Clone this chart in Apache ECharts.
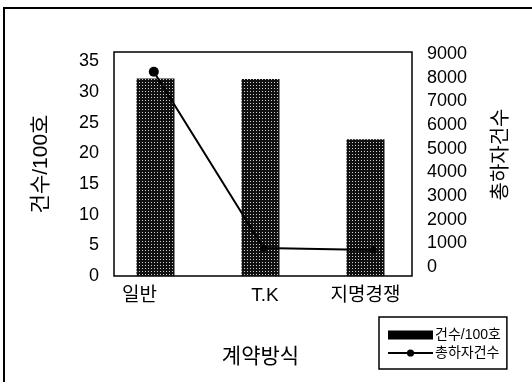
<!DOCTYPE html>
<html><head><meta charset="utf-8">
<script src="https://cdn.jsdelivr.net/npm/echarts@6/dist/echarts.min.js"></script>
<style>html,body{margin:0;padding:0;background:#fff}#c{width:532px;height:382px}</style>
</head><body><div id="c"></div>
<script>
const categories = ['일반', 'T.K', '지명경쟁'];
const barValues = [32.2, 32.1, 22.3];        // 건수/100호
const lineValues = [8250, 800, 720];         // 총하자건수
const leftTicks = { min: 0, max: 36.5, interval: 5 };
const rightTicks = { min: 0, max: 9000, interval: 1000 };
const barName = '건수/100호';
const lineName = '총하자건수';
const xName = '계약방식';

const FONT = '"Liberation Sans", "Noto Sans CJK KR", sans-serif';

// dotted dark fill pattern
const pc = document.createElement('canvas');
pc.width = 3; pc.height = 3;
const pctx = pc.getContext('2d');
pctx.fillStyle = '#101010'; pctx.fillRect(0, 0, 3, 3);
pctx.fillStyle = '#cfcfcf'; pctx.fillRect(1, 1, 1, 1);

const chart = echarts.init(document.getElementById('c'), null, { renderer: 'canvas' });
chart.setOption({
  animation: false,
  backgroundColor: '#fff',
  textStyle: { fontFamily: FONT, color: '#000' },
  graphic: [{
    type: 'rect', shape: { x: 4, y: 8, width: 600, height: 420 },
    style: { fill: 'none', stroke: '#000', lineWidth: 2 }, silent: true
  }],
  grid: [
    { left: 114, top: 52, width: 298, height: 224, show: true, borderColor: '#000', borderWidth: 1.5, backgroundColor: 'transparent' },
    { left: 103, top: 52, width: 315, height: 224 },
    { left: 99, top: 54, width: 329, height: 213 },
    { left: 114, top: 54, width: 298, height: 213 }
  ],
  xAxis: [
    { gridIndex: 0, type: 'category', data: categories, show: false },
    { gridIndex: 1, type: 'category', data: [
        { value: categories[0], textStyle: { padding: [0, 32, 0, 0] } },
        { value: categories[1], textStyle: { padding: [0, 0, 0, 9] } },
        { value: categories[2] }
      ],
      axisLine: { show: false }, axisTick: { show: false },
      axisLabel: { margin: 10, fontSize: 19, color: '#000', fontFamily: FONT },
      name: xName, nameLocation: 'middle', nameGap: 71,
      nameTextStyle: { fontSize: 21, color: '#000', fontFamily: FONT } },
    { gridIndex: 2, type: 'category', data: categories, show: false },
    { gridIndex: 3, type: 'category', data: categories, show: false }
  ],
  yAxis: [
    { gridIndex: 0, type: 'value', position: 'left', min: leftTicks.min, max: leftTicks.max, interval: leftTicks.interval,
      splitLine: { show: false }, axisLine: { show: false }, axisTick: { show: false },
      axisLabel: { margin: 15, fontSize: 18, color: '#000', fontFamily: FONT, showMaxLabel: false },
      name: barName, nameLocation: 'middle', nameRotate: 90, nameGap: 62,
      nameTextStyle: { fontSize: 21, color: '#000', fontFamily: FONT } },
    { gridIndex: 1, type: 'value', min: leftTicks.min, max: leftTicks.max, show: false, splitLine: { show: false } },
    { gridIndex: 2, type: 'value', min: rightTicks.min, max: rightTicks.max, show: false, splitLine: { show: false } },
    { gridIndex: 3, type: 'value', position: 'right', min: rightTicks.min, max: rightTicks.max, interval: rightTicks.interval,
      splitLine: { show: false }, axisLine: { show: false }, axisTick: { show: false },
      axisLabel: { margin: 15, fontSize: 18, color: '#000', fontFamily: FONT, formatter: v => String(v) },
      name: lineName, nameLocation: 'middle', nameRotate: 90, nameGap: 79,
      nameTextStyle: { fontSize: 20, color: '#000', fontFamily: FONT, padding: [0, 0, 0, 12] } }
  ],
  legend: {
    left: 379, top: 317, orient: 'vertical', itemGap: 4,
    borderColor: '#000', borderWidth: 1.5, padding: [11, 6, 9, 8],
    itemWidth: 45, itemHeight: 9,
    textStyle: { fontSize: 14, color: '#000', fontFamily: FONT, padding: [0, 0, 0, -3] },
    data: [
      { name: barName, icon: 'rect', itemStyle: { color: '#000' } },
      { name: lineName }
    ]
  },
  series: [
    { name: barName, type: 'bar', xAxisIndex: 1, yAxisIndex: 1, data: barValues, barWidth: 38,
      itemStyle: { color: { image: pc, repeat: 'repeat' } } },
    { name: lineName, type: 'line', xAxisIndex: 2, yAxisIndex: 2,
      data: [{ value: lineValues[0], symbolSize: 10 }, lineValues[1], lineValues[2]],
      symbol: 'circle', symbolSize: 7,
      lineStyle: { color: '#000', width: 2 }, itemStyle: { color: '#000' } }
  ]
});
</script></body></html>
